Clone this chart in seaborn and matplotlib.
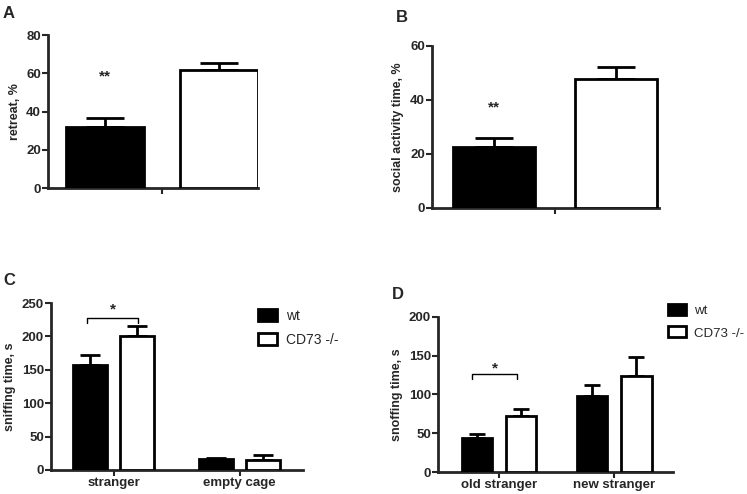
import matplotlib
matplotlib.use("Agg")
import matplotlib.pyplot as plt
import pandas as pd
import seaborn as sns
from matplotlib.patches import Patch

# data (mean, upper error)
genotypes = ["wt", "CD73 -/-"]

retreat_mean = [32.0, 61.5]
retreat_err = [4.5, 3.9]

social_mean = [22.4, 47.8]
social_err = [3.6, 4.4]

sniff_conds = ["stranger", "empty cage"]
sniff_wt_mean = [157.5, 16.0]
sniff_wt_err = [14.0, 2.5]
sniff_ko_mean = [201.0, 15.0]
sniff_ko_err = [15.0, 7.5]

snoff_conds = ["old stranger", "new stranger"]
snoff_wt_mean = [43.4, 98.3]
snoff_wt_err = [6.0, 13.7]
snoff_ko_mean = [72.0, 123.6]
snoff_ko_err = [9.0, 24.4]

sns.set_style("ticks")
plt.rcParams["font.family"] = ["Liberation Sans", "DejaVu Sans"]

fig = plt.figure(figsize=(7.47, 4.94), dpi=100)
ax_a = fig.add_axes([0.0643, 0.619, 0.281, 0.310])
ax_b = fig.add_axes([0.578, 0.579, 0.304, 0.328])
ax_c = fig.add_axes([0.068, 0.0486, 0.337, 0.338])
ax_d = fig.add_axes([0.586, 0.0445, 0.315, 0.314])

pal = ["black", "white"]


def draw_bars(ax, conds, means, errs, width, gap, capsize):
    rows = []
    for g, m_list in zip(genotypes, means):
        for c, m in zip(conds, m_list):
            rows.append({"cond": c, "genotype": g, "value": m})
    df = pd.DataFrame(rows)
    sns.barplot(data=df, x="cond", y="value", hue="genotype", hue_order=genotypes,
                palette=pal, edgecolor="black", linewidth=2, width=width, gap=gap,
                errorbar=None, legend=False, ax=ax, zorder=3)
    for cont, e_list in zip(ax.containers, errs):
        for bar, e in zip(cont, e_list):
            x = bar.get_x() + bar.get_width() / 2
            h = bar.get_height()
            ax.errorbar(x, h, yerr=[[0], [e]], color="black", capsize=capsize,
                        elinewidth=2, capthick=2, zorder=2)


def style(ax, ylabel, ylim, yticks):
    sns.despine(ax=ax)
    for s in ["left", "bottom"]:
        ax.spines[s].set_linewidth(2)
    ax.set_ylim(*ylim)
    ax.set_yticks(yticks)
    ax.set_ylabel(ylabel, fontsize=9, fontweight="bold")
    ax.set_xlabel("")
    ax.tick_params(length=4, width=1.5, labelsize=9.5, pad=1)
    for lab in ax.get_xticklabels() + ax.get_yticklabels():
        lab.set_fontweight("bold")


# A
draw_bars(ax_a, [""], [[retreat_mean[0]], [retreat_mean[1]]],
          [[retreat_err[0]], [retreat_err[1]]], 0.8, 0.32, 14)
ax_a.set_xlim(-0.4, 0.337)
style(ax_a, "retreat, %", (0, 80), [0, 20, 40, 60, 80])
ax_a.text(-0.2, 58.3, "**", ha="center", va="center", fontsize=11, fontweight="bold")

# B
draw_bars(ax_b, [""], [[social_mean[0]], [social_mean[1]]],
          [[social_err[0]], [social_err[1]]], 0.8, 0.33, 14)
ax_b.set_xlim(-0.403, 0.341)
style(ax_b, "social activity time, %", (0, 60), [0, 20, 40, 60])
ax_b.text(-0.2, 37.2, "**", ha="center", va="center", fontsize=11, fontweight="bold")

# C
draw_bars(ax_c, sniff_conds, [sniff_wt_mean, sniff_ko_mean],
          [sniff_wt_err, sniff_ko_err], 0.75, 0.28, 7.5)
ax_c.set_xlim(-0.5, 1.5)
style(ax_c, "sniffing time, s", (0, 250), [0, 50, 100, 150, 200, 250])
ax_c.plot([-0.21, -0.21, 0.19, 0.19], [220, 227, 227, 220], color="black", lw=1)
ax_c.text(-0.01, 241, "*", ha="center", va="center", fontsize=11, fontweight="bold")

# D
draw_bars(ax_d, snoff_conds, [snoff_wt_mean, snoff_ko_mean],
          [snoff_wt_err, snoff_ko_err], 0.77, 0.32, 5.8)
ax_d.set_xlim(-0.53, 1.51)
style(ax_d, "snoffing time, s", (0, 200), [0, 50, 100, 150, 200])
ax_d.plot([-0.23, -0.23, 0.16, 0.16], [120, 126, 126, 120], color="black", lw=1)
ax_d.text(-0.03, 133, "*", ha="center", va="center", fontsize=11, fontweight="bold")

handles = [Patch(facecolor=c, edgecolor="black", linewidth=2) for c in pal]
for ax, anchor, fs in [(ax_c, (0.8, 1.0), 10), (ax_d, (0.955, 1.12), 9.5)]:
    ax.legend(handles, genotypes, loc="upper left", bbox_to_anchor=anchor,
              frameon=False, fontsize=fs, handlelength=1.4, handleheight=0.9,
              labelspacing=0.75, handletextpad=0.6, borderaxespad=0)

for letter, x, y in [("A", 0.011, 0.972), ("B", 0.538, 0.964),
                     ("C", 0.013, 0.433), ("D", 0.533, 0.403)]:
    fig.text(x, y, letter, ha="center", va="center", fontsize=12, fontweight="bold")

fig.savefig("out.png", dpi=100)
